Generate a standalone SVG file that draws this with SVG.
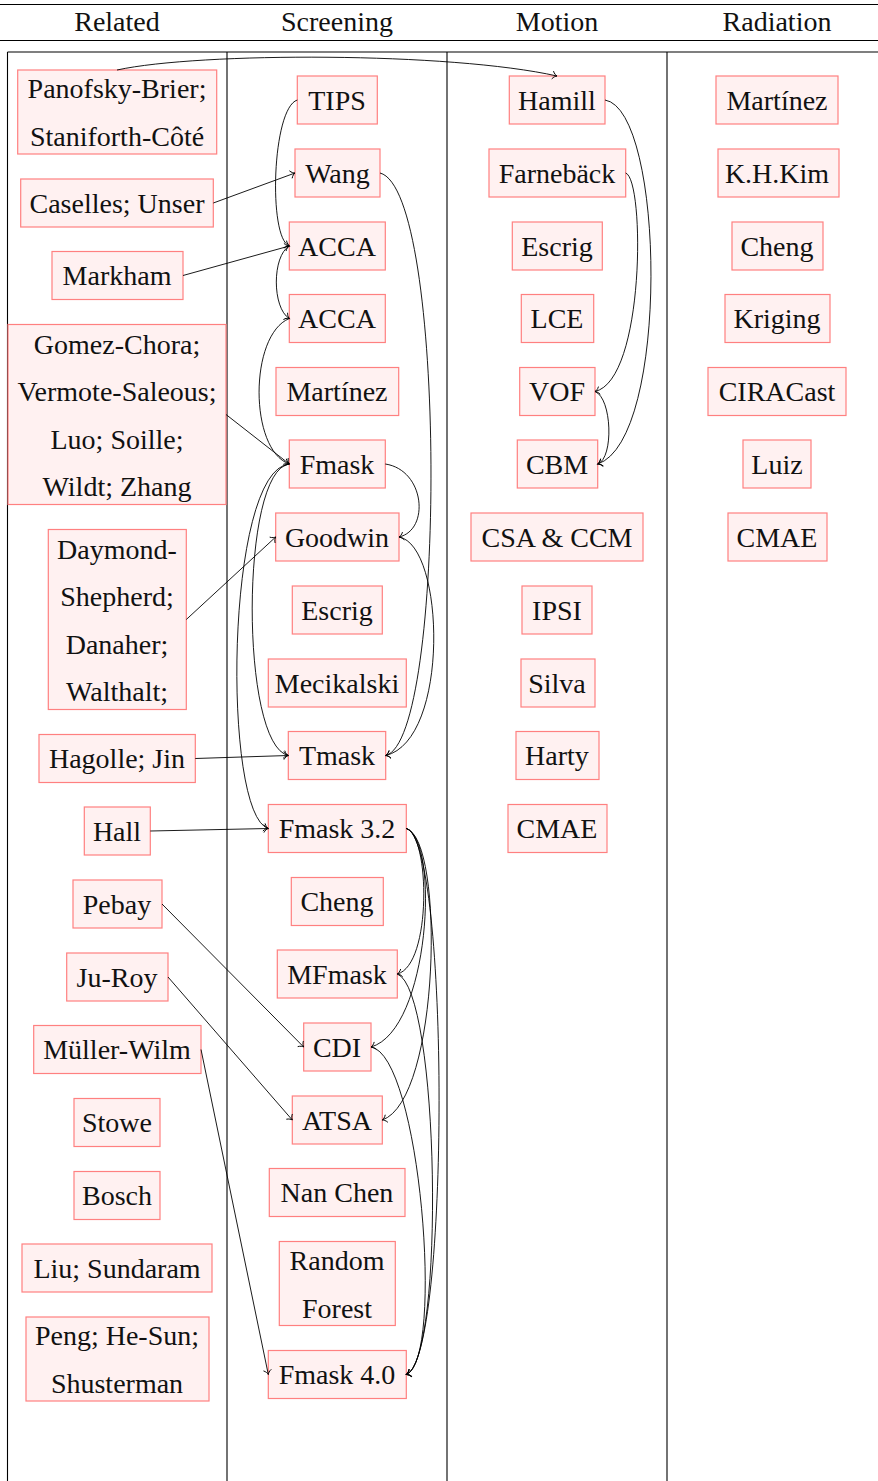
<svg xmlns="http://www.w3.org/2000/svg" width="878" height="1481" viewBox="0 0 878 1481">
<style>
text{font-family:"Liberation Serif","DejaVu Serif",serif;font-size:28px;fill:#111;text-anchor:middle}
.n rect{fill:#fff1f1;stroke:#ff8080;stroke-width:1.2}
.tl{stroke:#000;stroke-width:1.1;fill:none}
.e path{fill:none;stroke:#000;stroke-width:0.9;marker-end:url(#to)}
</style>
<defs>
<marker id="to" markerUnits="userSpaceOnUse" markerWidth="12" markerHeight="12" refX="0" refY="0" viewBox="-6 -6 12 12" orient="auto" overflow="visible">
<path d="M-4.5,-4 C-3.2,-1.6 -1.2,-0.4 0,0 C-1.2,0.4 -3.2,1.6 -4.5,4" fill="none" stroke="#000" stroke-width="0.9"/>
</marker>
</defs>
<rect width="878" height="1481" fill="#fff"/>
<g id="table">
<line class="tl" x1="0" y1="4.5" x2="878" y2="4.5"/>
<line class="tl" x1="0" y1="40.5" x2="878" y2="40.5"/>
<line class="tl" x1="7.5" y1="52" x2="878" y2="52"/>
<line class="tl" x1="7.5" y1="52" x2="7.5" y2="1481"/>
<line class="tl" x1="227" y1="52" x2="227" y2="1481"/>
<line class="tl" x1="447" y1="52" x2="447" y2="1481"/>
<line class="tl" x1="667" y1="52" x2="667" y2="1481"/>
<text x="117" y="30.5">Related</text>
<text x="337" y="30.5">Screening</text>
<text x="557" y="30.5">Motion</text>
<text x="777" y="30.5">Radiation</text>
</g>
<g id="related">
<g id="r-panofsky" class="n"><rect x="17.7" y="70" width="199" height="84"/><text x="117" y="98">Panofsky-Brier;</text><text x="117" y="146">Staniforth-Côté</text></g>
<g id="r-caselles" class="n"><rect x="20.7" y="179" width="192.6" height="48"/><text x="117" y="212.5">Caselles; Unser</text></g>
<g id="r-markham" class="n"><rect x="52" y="251.5" width="131" height="48"/><text x="117" y="285">Markham</text></g>
<g id="r-gomez" class="n"><rect x="8" y="324.5" width="218" height="180"/><text x="117" y="353.5">Gomez-Chora;</text><text x="117" y="401">Vermote-Saleous;</text><text x="117" y="448.5">Luo; Soille;</text><text x="117" y="496">Wildt; Zhang</text></g>
<g id="r-daymond" class="n"><rect x="48.3" y="529.5" width="138" height="180"/><text x="117" y="558.5">Daymond-</text><text x="117" y="606">Shepherd;</text><text x="117" y="653.5">Danaher;</text><text x="117" y="701">Walthalt;</text></g>
<g id="r-hagolle" class="n"><rect x="39" y="734.5" width="156.3" height="48"/><text x="117" y="768">Hagolle; Jin</text></g>
<g id="r-hall" class="n"><rect x="84.3" y="807" width="66" height="48"/><text x="117" y="840.5">Hall</text></g>
<g id="r-pebay" class="n"><rect x="73" y="880" width="89" height="48"/><text x="117" y="913.5">Pebay</text></g>
<g id="r-juroy" class="n"><rect x="66.7" y="953" width="101.3" height="48"/><text x="117" y="986.5">Ju-Roy</text></g>
<g id="r-muller" class="n"><rect x="33.7" y="1025.5" width="167.3" height="48"/><text x="117" y="1059">Müller-Wilm</text></g>
<g id="r-stowe" class="n"><rect x="74" y="1098.5" width="86" height="48"/><text x="117" y="1132">Stowe</text></g>
<g id="r-bosch" class="n"><rect x="74" y="1171.5" width="86" height="48"/><text x="117" y="1205">Bosch</text></g>
<g id="r-liu" class="n"><rect x="22" y="1244" width="190" height="48"/><text x="117" y="1277.5">Liu; Sundaram</text></g>
<g id="r-peng" class="n"><rect x="26" y="1317" width="183" height="84"/><text x="117" y="1345">Peng; He-Sun;</text><text x="117" y="1393">Shusterman</text></g>
</g>
<g id="screening">
<g id="s-tips" class="n"><rect x="297.3" y="76" width="80" height="48"/><text x="337" y="109.5">TIPS</text></g>
<g id="s-wang" class="n"><rect x="295" y="149" width="85" height="48"/><text x="337.5" y="182.5">Wang</text></g>
<g id="s-acca1" class="n"><rect x="289.3" y="222" width="96" height="48"/><text x="337" y="255.5">ACCA</text></g>
<g id="s-acca2" class="n"><rect x="289.3" y="294.5" width="96" height="48"/><text x="337" y="328">ACCA</text></g>
<g id="s-martinez" class="n"><rect x="276" y="367.5" width="122.7" height="48"/><text x="337" y="401">Martínez</text></g>
<g id="s-fmask" class="n"><rect x="289.3" y="440" width="96" height="48"/><text x="337" y="473.5">Fmask</text></g>
<g id="s-goodwin" class="n"><rect x="275.7" y="513" width="123.3" height="48"/><text x="337" y="546.5">Goodwin</text></g>
<g id="s-escrig" class="n"><rect x="292.3" y="586" width="90" height="48"/><text x="337" y="619.5">Escrig</text></g>
<g id="s-mecikalski" class="n"><rect x="268.3" y="659" width="138" height="48"/><text x="337" y="692.5">Mecikalski</text></g>
<g id="s-tmask" class="n"><rect x="288.3" y="731.5" width="97.4" height="48"/><text x="337" y="765">Tmask</text></g>
<g id="s-fmask32" class="n"><rect x="268.3" y="804.5" width="138" height="48"/><text x="337" y="838">Fmask 3.2</text></g>
<g id="s-cheng" class="n"><rect x="291.3" y="877.5" width="92" height="48"/><text x="337" y="911">Cheng</text></g>
<g id="s-mfmask" class="n"><rect x="277.3" y="950" width="120" height="48"/><text x="337" y="983.5">MFmask</text></g>
<g id="s-cdi" class="n"><rect x="303.7" y="1023" width="67.3" height="48"/><text x="337" y="1056.5">CDI</text></g>
<g id="s-atsa" class="n"><rect x="292.3" y="1096" width="90" height="48"/><text x="337" y="1129.5">ATSA</text></g>
<g id="s-nanchen" class="n"><rect x="269.3" y="1168.5" width="135.7" height="48"/><text x="337" y="1202">Nan Chen</text></g>
<g id="s-rf" class="n"><rect x="279.3" y="1241.5" width="116" height="84"/><text x="337" y="1270">Random</text><text x="337" y="1318">Forest</text></g>
<g id="s-fmask40" class="n"><rect x="268.3" y="1350.5" width="138" height="48"/><text x="337" y="1384">Fmask 4.0</text></g>
</g>
<g id="motion">
<g id="m-hamill" class="n"><rect x="509.3" y="76" width="95.7" height="48"/><text x="557" y="109.5">Hamill</text></g>
<g id="m-farneback" class="n"><rect x="489" y="149" width="136.7" height="48"/><text x="557" y="182.5">Farnebäck</text></g>
<g id="m-escrig" class="n"><rect x="512.3" y="222" width="90" height="48"/><text x="557" y="255.5">Escrig</text></g>
<g id="m-lce" class="n"><rect x="521.3" y="294.5" width="72.4" height="48"/><text x="557" y="328">LCE</text></g>
<g id="m-vof" class="n"><rect x="519.7" y="367.5" width="75.3" height="48"/><text x="557" y="401">VOF</text></g>
<g id="m-cbm" class="n"><rect x="517.3" y="440" width="80.4" height="48"/><text x="557" y="473.5">CBM</text></g>
<g id="m-csa" class="n"><rect x="471" y="513" width="172" height="48"/><text x="557" y="546.5">CSA &amp; CCM</text></g>
<g id="m-ipsi" class="n"><rect x="522" y="586" width="70" height="48"/><text x="557" y="619.5">IPSI</text></g>
<g id="m-silva" class="n"><rect x="521" y="659" width="74" height="48"/><text x="557" y="692.5">Silva</text></g>
<g id="m-harty" class="n"><rect x="516" y="731.5" width="83" height="48"/><text x="557" y="765">Harty</text></g>
<g id="m-cmae" class="n"><rect x="508" y="804.5" width="99" height="48"/><text x="557" y="838">CMAE</text></g>
</g>
<g id="radiation">
<g id="x-martinez" class="n"><rect x="716" y="76" width="122" height="48"/><text x="777" y="109.5">Martínez</text></g>
<g id="x-khkim" class="n"><rect x="718" y="149" width="121" height="48"/><text x="777" y="182.5">K.H.Kim</text></g>
<g id="x-cheng" class="n"><rect x="732" y="222" width="91" height="48"/><text x="777" y="255.5">Cheng</text></g>
<g id="x-kriging" class="n"><rect x="725" y="294.5" width="105" height="48"/><text x="777" y="328">Kriging</text></g>
<g id="x-ciracast" class="n"><rect x="708" y="367.5" width="138" height="48"/><text x="777" y="401">CIRACast</text></g>
<g id="x-luiz" class="n"><rect x="743" y="440" width="68" height="48"/><text x="777" y="473.5">Luiz</text></g>
<g id="x-cmae" class="n"><rect x="728" y="513" width="99" height="48"/><text x="777" y="546.5">CMAE</text></g>
</g>
<g id="connectors" class="e">
<path d="M117,70 C200,52 450,52 557,76"/>
<path d="M213.3,203 L295,173"/>
<path d="M183,275.5 L289.3,246"/>
<path d="M297.3,100 C272,108 268,238 289.3,246"/>
<path d="M289.3,246 C272,256 272,308 289.3,318.5"/>
<path d="M289.3,318.5 C249,335 249,450 289.3,464"/>
<path d="M226,414.5 L289.3,464"/>
<path d="M380,173 C447,190 447,740 385.7,755.5"/>
<path d="M385.3,464 C425,470 430,530 399,537"/>
<path d="M399,537 C445,545 450,740 385.7,755.5"/>
<path d="M186.3,619.5 L275.7,537"/>
<path d="M289.3,464 C240,470 240,745 288.3,755.5"/>
<path d="M289.3,464 C225,470 222,815 268.3,828.5"/>
<path d="M195.3,758.5 L288.3,755.5"/>
<path d="M150.3,831 L268.3,828.5"/>
<path d="M406.3,828.5 C430,835 432,965 397.3,974"/>
<path d="M406.3,828.5 C440,840 430,1030 371,1047"/>
<path d="M406.3,828.5 C445,840 440,1100 382.3,1120"/>
<path d="M406.3,828.5 C450,840 450,1360 406.3,1374.5"/>
<path d="M397.3,974 C440,990 445,1360 406.3,1374.5"/>
<path d="M371,1047 C420,1055 445,1360 406.3,1374.5"/>
<path d="M162,904 L303.7,1047"/>
<path d="M168,977 L292.3,1120"/>
<path d="M201,1049.5 L268.3,1374.5"/>
<path d="M605,100 C665,110 670,440 597.7,464"/>
<path d="M625.7,173 C645,180 645,380 595,391.5"/>
<path d="M595,391.5 C612,398 614,458 597.7,464"/>
</g>
</svg>
